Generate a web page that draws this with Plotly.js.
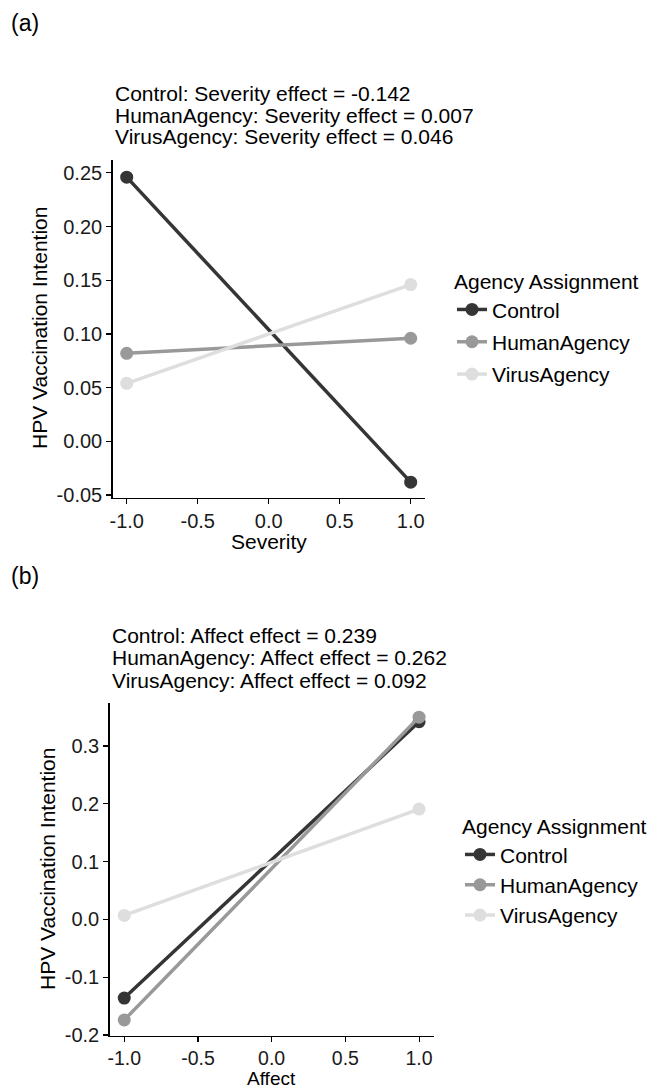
<!DOCTYPE html>
<html>
<head>
<meta charset="utf-8">
<script src="https://cdn.plot.ly/plotly-3.0.1.min.js"></script>
<style>
  html, body { margin: 0; padding: 0; background: #ffffff; }
  #chart { width: 659px; height: 1091px; }
</style>
</head>
<body>
<div id="chart"></div>
<script>
// ---------- data ----------
const groups = ["Control", "HumanAgency", "VirusAgency"];
const groupColors = ["#353535", "#999999", "#dedede"];
const xLevels = [-1, 1];

// Panel (a): Severity
const sevControl = [0.246, -0.038];
const sevHuman   = [0.082, 0.096];
const sevVirus   = [0.054, 0.146];
const sevEffects = ["-0.142", "0.007", "0.046"];

// Panel (b): Affect
const affControl = [-0.136, 0.342];
const affHuman   = [-0.174, 0.350];
const affVirus   = [0.007, 0.191];
const affEffects = ["0.239", "0.262", "0.092"];

// Tick labels
const xTickVals = [-1, -0.5, 0, 0.5, 1];
const xTickText = ["-1.0", "-0.5", "0.0", "0.5", "1.0"];
const sevYTickVals = [-0.05, 0, 0.05, 0.10, 0.15, 0.20, 0.25];
const sevYTickText = ["-0.05", "0.00", "0.05", "0.10", "0.15", "0.20", "0.25"];
const affYTickVals = [-0.2, -0.1, 0, 0.1, 0.2, 0.3];
const affYTickText = ["-0.2", "-0.1", "0.0", "0.1", "0.2", "0.3"];

// ---------- layout helpers ----------
const W = 659, H = 1091;
const px = v => v / W;
const py = v => 1 - v / H;
const FONT = "Liberation Sans, Arial, sans-serif";

const sevSeries = [sevControl, sevHuman, sevVirus];
const affSeries = [affControl, affHuman, affVirus];

const traces = [];
groups.forEach((g, i) => {
  traces.push({
    x: xLevels, y: sevSeries[i], name: g, type: "scatter", mode: "lines+markers",
    xaxis: "x", yaxis: "y", legend: "legend", legendgroup: "a" + i,
    line: { color: groupColors[i], width: 3.5 },
    marker: { color: groupColors[i], size: 13 }
  });
});
groups.forEach((g, i) => {
  traces.push({
    x: xLevels, y: affSeries[i], name: g, type: "scatter", mode: "lines+markers",
    xaxis: "x2", yaxis: "y2", legend: "legend2",
    line: { color: groupColors[i], width: 3.5 },
    marker: { color: groupColors[i], size: 13 }
  });
});

const axisCommon = {
  showgrid: false, zeroline: false, showline: true,
  linecolor: "#000000", linewidth: 1.3,
  ticks: "outside", ticklen: 5, tickwidth: 1.1, tickcolor: "#000000",
  tickfont: { family: FONT, size: 20, color: "#1a1a1a" },
  fixedrange: true
};

const annotations = [];
function addText(text, x, y, opts) {
  annotations.push(Object.assign({
    text: text, xref: "paper", yref: "paper", x: x, y: y,
    showarrow: false, xanchor: "left", yanchor: "middle",
    font: { family: FONT, size: 21, color: "#000000" }
  }, opts || {}));
}

// Panel labels
addText("(a)", px(9), py(23), { font: { family: FONT, size: 23, color: "#000000" } });
addText("(b)", px(9), py(576), { font: { family: FONT, size: 23, color: "#000000" } });

// Panel subtitles
const sevTitleY = [93.8, 115.4, 136.6];
const affTitleY = [635, 657.5, 680];
groups.forEach((g, i) => {
  addText(g + ": Severity effect = " + sevEffects[i], px(113), py(sevTitleY[i]));
  addText(g + ": Affect effect = " + affEffects[i], px(110), py(affTitleY[i]));
});

// Axis titles
addText("HPV Vaccination Intention", px(40), py(328), { textangle: -90, xanchor: "center" });
addText("HPV Vaccination Intention", px(48), py(869), { textangle: -90, xanchor: "center" });
addText("Severity", px(268.7), py(541), { xanchor: "center" });
addText("Affect", px(271.6), 0, { xanchor: "center", yanchor: "bottom",
  font: { family: FONT, size: 19, color: "#000000" } });

const legendCommon = {
  xanchor: "left", yanchor: "top",
  font: { family: FONT, size: 21, color: "#000000" },
  bgcolor: "rgba(0,0,0,0)", borderwidth: 0,
  itemwidth: 30
};

const layout = {
  width: W, height: H,
  margin: { l: 0, r: 0, t: 0, b: 0 },
  paper_bgcolor: "#ffffff", plot_bgcolor: "#ffffff",
  showlegend: true,
  xaxis: Object.assign({}, axisCommon, {
    domain: [px(112.5), px(424.9)], range: [-1.1, 1.1],
    tickvals: xTickVals, ticktext: xTickText, anchor: "y"
  }),
  yaxis: Object.assign({}, axisCommon, {
    domain: [py(497.7), py(160)], range: [-0.0525, 0.262],
    tickvals: sevYTickVals, ticktext: sevYTickText, anchor: "x"
  }),
  xaxis2: Object.assign({}, axisCommon, {
    domain: [px(109.5), px(433.8)], range: [-1.1, 1.1], ticklen: 4.5,
    tickfont: { family: FONT, size: 19.5, color: "#1a1a1a" },
    tickvals: xTickVals, ticktext: xTickText, anchor: "y2"
  }),
  yaxis2: Object.assign({}, axisCommon, {
    domain: [py(1036), py(702.7)], range: [-0.2017, 0.375],
    tickvals: affYTickVals, ticktext: affYTickText, anchor: "x2"
  }),
  legend: Object.assign({}, legendCommon, {
    x: px(452), y: py(262), tracegroupgap: 2,
    title: { text: "Agency Assignment", font: { family: FONT, size: 21, color: "#000000" } }
  }),
  legend2: Object.assign({}, legendCommon, {
    x: px(460), y: py(807), tracegroupgap: 0,
    title: { text: "Agency Assignment", font: { family: FONT, size: 21, color: "#000000" } }
  }),
  annotations: annotations
};

Plotly.newPlot("chart", traces, layout, { displayModeBar: false, staticPlot: true });
</script>
</body>
</html>
